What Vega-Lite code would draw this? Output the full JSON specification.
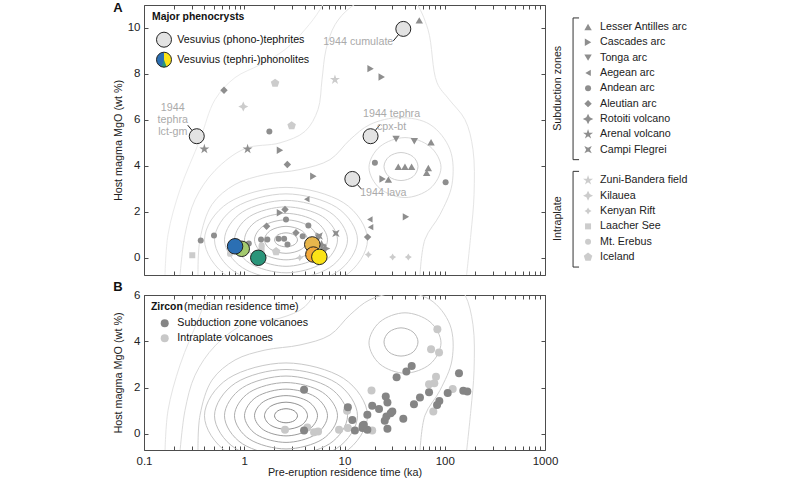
{
  "$schema": "https://vega.github.io/schema/vega-lite/v6.json",
  "padding": {"left": 111, "top": 1, "right": 5, "bottom": 0},
  "config": {
    "font": "Liberation Sans",
    "view": {"stroke": "#4d4d4d", "strokeWidth": 1},
    "axis": {"domain": false, "grid": false, "labelFont": "Liberation Sans", "labelFontSize": 11.5, "labelColor": "#222", "titleFont": "Liberation Sans", "titleFontSize": 10.8, "titleFontWeight": "normal", "titleColor": "#222", "tickColor": "#4d4d4d", "tickWidth": 1, "tickSize": -4}
  },
  "datasets": {
    "rings": [
      {"c":"k0","lv":0,"i":0,"t":3.398,"m":0.78},{"c":"k0","lv":0,"i":1,"t":3.146,"m":0.995},{"c":"k0","lv":0,"i":2,"t":2.61,"m":1.084},{"c":"k0","lv":0,"i":3,"t":2.165,"m":0.995},{"c":"k0","lv":0,"i":4,"t":2.004,"m":0.78},{"c":"k0","lv":0,"i":5,"t":2.165,"m":0.565},{"c":"k0","lv":0,"i":6,"t":2.61,"m":0.476},{"c":"k0","lv":0,"i":7,"t":3.146,"m":0.565},
      {"c":"k1","lv":1,"i":0,"t":4.276,"m":0.78},{"c":"k1","lv":1,"i":1,"t":3.7,"m":1.195},{"c":"k1","lv":1,"i":2,"t":2.61,"m":1.367},{"c":"k1","lv":1,"i":3,"t":1.84,"m":1.195},{"c":"k1","lv":1,"i":4,"t":1.592,"m":0.78},{"c":"k1","lv":1,"i":5,"t":1.84,"m":0.365},{"c":"k1","lv":1,"i":6,"t":2.61,"m":0.193},{"c":"k1","lv":1,"i":7,"t":3.7,"m":0.365},
      {"c":"k2","lv":2,"i":0,"t":5.38,"m":0.78},{"c":"k2","lv":2,"i":1,"t":4.351,"m":1.395},{"c":"k2","lv":2,"i":2,"t":2.61,"m":1.65},{"c":"k2","lv":2,"i":3,"t":1.564,"m":1.395},{"c":"k2","lv":2,"i":4,"t":1.266,"m":0.78},{"c":"k2","lv":2,"i":5,"t":1.564,"m":0.165},{"c":"k2","lv":2,"i":6,"t":2.61,"m":-0.09},{"c":"k2","lv":2,"i":7,"t":4.351,"m":0.165},
      {"c":"k3","lv":3,"i":0,"t":6.768,"m":0.78},{"c":"k3","lv":3,"i":1,"t":5.122,"m":1.595},{"c":"k3","lv":3,"i":2,"t":2.61,"m":1.932},{"c":"k3","lv":3,"i":3,"t":1.329,"m":1.595},{"c":"k3","lv":3,"i":4,"t":1.006,"m":0.78},{"c":"k3","lv":3,"i":5,"t":1.329,"m":-0.035},{"c":"k3","lv":3,"i":6,"t":2.61,"m":-0.372},{"c":"k3","lv":3,"i":7,"t":5.122,"m":-0.035},
      {"c":"k4","lv":4,"i":0,"t":8.515,"m":0.78},{"c":"k4","lv":4,"i":1,"t":6.025,"m":1.794},{"c":"k4","lv":4,"i":2,"t":2.61,"m":2.215},{"c":"k4","lv":4,"i":3,"t":1.13,"m":1.794},{"c":"k4","lv":4,"i":4,"t":0.799,"m":0.78},{"c":"k4","lv":4,"i":5,"t":1.13,"m":-0.234},{"c":"k4","lv":4,"i":6,"t":2.61,"m":-0.655},{"c":"k4","lv":4,"i":7,"t":6.025,"m":-0.234},
      {"c":"k5","lv":5,"i":0,"t":10.72,"m":0.78},{"c":"k5","lv":5,"i":1,"t":7.084,"m":1.994},{"c":"k5","lv":5,"i":2,"t":2.61,"m":2.497},{"c":"k5","lv":5,"i":3,"t":0.961,"m":1.994},{"c":"k5","lv":5,"i":4,"t":0.635,"m":0.78},{"c":"k5","lv":5,"i":5,"t":0.961,"m":-0.434},{"c":"k5","lv":5,"i":6,"t":2.61,"m":-0.937},{"c":"k5","lv":5,"i":7,"t":7.084,"m":-0.434},
      {"c":"k6","lv":6,"i":0,"t":13.48,"m":0.78},{"c":"k6","lv":6,"i":1,"t":8.333,"m":2.194},{"c":"k6","lv":6,"i":2,"t":2.61,"m":2.78},{"c":"k6","lv":6,"i":3,"t":0.817,"m":2.194},{"c":"k6","lv":6,"i":4,"t":0.505,"m":0.78},{"c":"k6","lv":6,"i":5,"t":0.817,"m":-0.634},{"c":"k6","lv":6,"i":6,"t":2.61,"m":-1.22},{"c":"k6","lv":6,"i":7,"t":8.333,"m":-0.634},
      {"c":"k7","lv":7,"i":0,"t":16.96,"m":0.78},{"c":"k7","lv":7,"i":1,"t":9.804,"m":2.394},{"c":"k7","lv":7,"i":2,"t":2.61,"m":3.063},{"c":"k7","lv":7,"i":3,"t":0.694,"m":2.394},{"c":"k7","lv":7,"i":4,"t":0.401,"m":0.78},{"c":"k7","lv":7,"i":5,"t":0.694,"m":-0.834},{"c":"k7","lv":7,"i":6,"t":2.61,"m":-1.503},{"c":"k7","lv":7,"i":7,"t":9.804,"m":-0.834},
      {"c":"M0","lv":5,"i":0,"t":54.11,"m":3.97},{"c":"M0","lv":5,"i":1,"t":48.24,"m":4.4},{"c":"M0","lv":5,"i":2,"t":36.61,"m":4.58},{"c":"M0","lv":5,"i":3,"t":27.79,"m":4.4},{"c":"M0","lv":5,"i":4,"t":24.77,"m":3.97},{"c":"M0","lv":5,"i":5,"t":27.79,"m":3.53},{"c":"M0","lv":5,"i":6,"t":36.61,"m":3.36},{"c":"M0","lv":5,"i":7,"t":48.24,"m":3.53},
      {"c":"M1","lv":7,"i":0,"t":91.76,"m":3.93},{"c":"M1","lv":7,"i":1,"t":71.27,"m":4.84},{"c":"M1","lv":7,"i":2,"t":40.13,"m":5.23},{"c":"M1","lv":7,"i":3,"t":22.6,"m":4.84},{"c":"M1","lv":7,"i":4,"t":17.55,"m":3.93},{"c":"M1","lv":7,"i":5,"t":22.6,"m":3.01},{"c":"M1","lv":7,"i":6,"t":40.13,"m":2.62},{"c":"M1","lv":7,"i":7,"t":71.27,"m":3.01}
    ],
    "outer": [
      {"c":"C1","lv":8,"i":0,"t":0.3457,"m":-0.77},{"c":"C1","lv":8,"i":1,"t":0.3619,"m":0.8},{"c":"C1","lv":8,"i":2,"t":0.4769,"m":2.32},{"c":"C1","lv":8,"i":3,"t":0.8088,"m":3.19},{"c":"C1","lv":8,"i":4,"t":1.611,"m":3.62},{"c":"C1","lv":8,"i":5,"t":3.598,"m":3.84},{"c":"C1","lv":8,"i":6,"t":7.168,"m":4.27},{"c":"C1","lv":8,"i":7,"t":11.34,"m":5.14},{"c":"C1","lv":8,"i":8,"t":17.96,"m":5.8},{"c":"C1","lv":8,"i":9,"t":35.78,"m":6.1},{"c":"C1","lv":8,"i":10,"t":71.27,"m":5.8},{"c":"C1","lv":8,"i":11,"t":112.8,"m":4.71},{"c":"C1","lv":8,"i":12,"t":118.1,"m":3.19},{"c":"C1","lv":8,"i":13,"t":89.68,"m":1.88},{"c":"C1","lv":8,"i":14,"t":63.53,"m":0.8},{"c":"C1","lv":8,"i":15,"t":56.64,"m":-0.77},
      {"c":"C2","lv":9,"i":0,"t":0.2286,"m":-0.77},{"c":"C2","lv":9,"i":1,"t":0.2564,"m":1.01},{"c":"C2","lv":9,"i":2,"t":0.3227,"m":2.53},{"c":"C2","lv":9,"i":3,"t":0.5108,"m":3.8},{"c":"C2","lv":9,"i":4,"t":1.0174,"m":4.75},{"c":"C2","lv":9,"i":5,"t":2.273,"m":5.0},{"c":"C2","lv":9,"i":6,"t":4.036,"m":5.5},{"c":"C2","lv":9,"i":7,"t":5.441,"m":6.45},{"c":"C2","lv":9,"i":8,"t":5.965,"m":7.75},{"c":"C2","lv":9,"i":9,"t":6.54,"m":9.06},{"c":"C2","lv":9,"i":10,"t":8.039,"m":10.14},{"c":"C2","lv":9,"i":11,"t":11.34,"m":10.88},{"c":"C2","lv":9,"i":12,"t":20.15,"m":11.45},{"c":"C2","lv":9,"i":13,"t":35.78,"m":11.58},{"c":"C2","lv":9,"i":14,"t":50.5,"m":11.14},{"c":"C2","lv":9,"i":15,"t":68.07,"m":9.93},{"c":"C2","lv":9,"i":16,"t":83.7,"m":7.62},{"c":"C2","lv":9,"i":17,"t":110,"m":6.9},{"c":"C2","lv":9,"i":18,"t":159.2,"m":6.01},{"c":"C2","lv":9,"i":19,"t":191.3,"m":4.71},{"c":"C2","lv":9,"i":20,"t":196,"m":2.75},{"c":"C2","lv":9,"i":21,"t":182,"m":1.0},{"c":"C2","lv":9,"i":22,"t":165,"m":-0.77},
      {"c":"C3","lv":10,"i":0,"t":0.162,"m":-0.77},{"c":"C3","lv":10,"i":1,"t":0.1736,"m":1.01},{"c":"C3","lv":10,"i":2,"t":0.2286,"m":2.97},{"c":"C3","lv":10,"i":3,"t":0.3619,"m":5.14},{"c":"C3","lv":10,"i":4,"t":0.5108,"m":6.88},{"c":"C3","lv":10,"i":5,"t":0.8088,"m":7.84},{"c":"C3","lv":10,"i":6,"t":1.436,"m":8.4},{"c":"C3","lv":10,"i":7,"t":2.55,"m":9.06},{"c":"C3","lv":10,"i":8,"t":4.036,"m":9.93},{"c":"C3","lv":10,"i":9,"t":5.696,"m":10.8},{"c":"C3","lv":10,"i":10,"t":7.168,"m":11.67}
    ],
    "phen": [
      {"name":"Laacher See","t":0.303,"m":0.11},{"name":"Laacher See","t":1.49,"m":0.39},
      {"name":"Mt. Erebus","t":0.72,"m":0.17},{"name":"Mt. Erebus","t":1.49,"m":0.55},
      {"name":"Kenyan Rift","t":17.3,"m":0.14},{"name":"Kenyan Rift","t":30.2,"m":0.03},{"name":"Kenyan Rift","t":43.3,"m":0.03},{"name":"Kenyan Rift","t":3.58,"m":0.0},
      {"name":"Iceland","t":2.03,"m":7.6},{"name":"Iceland","t":2.97,"m":5.75},{"name":"Iceland","t":2.08,"m":0.27},
      {"name":"Zuni-Bandera field","t":8.03,"m":7.75},
      {"name":"Kilauea","t":0.978,"m":6.58},
      {"name":"Lesser Antilles arc","t":55.7,"m":10.33},{"name":"Lesser Antilles arc","t":73,"m":5.03},{"name":"Lesser Antilles arc","t":34.4,"m":3.96},{"name":"Lesser Antilles arc","t":40.1,"m":3.96},{"name":"Lesser Antilles arc","t":46.7,"m":3.96},{"name":"Lesser Antilles arc","t":68.6,"m":3.91},{"name":"Lesser Antilles arc","t":66,"m":3.7},{"name":"Lesser Antilles arc","t":27.4,"m":3.4},
      {"name":"Cascades arc","t":18.2,"m":8.23},{"name":"Cascades arc","t":23.5,"m":7.87},{"name":"Cascades arc","t":2.27,"m":4.68},{"name":"Cascades arc","t":4.89,"m":3.55},{"name":"Cascades arc","t":24,"m":3.43},{"name":"Cascades arc","t":41,"m":1.78},{"name":"Cascades arc","t":2.27,"m":1.96},
      {"name":"Tonga arc","t":32.7,"m":5.17},{"name":"Tonga arc","t":49.7,"m":5.07},{"name":"Tonga arc","t":5.5,"m":0.87},
      {"name":"Aegean arc","t":17.9,"m":1.67},{"name":"Aegean arc","t":18.2,"m":1.33},{"name":"Aegean arc","t":4.2,"m":2.55},
      {"name":"Andean arc","t":1.78,"m":5.5},{"name":"Andean arc","t":20.1,"m":4.13},{"name":"Andean arc","t":102,"m":3.29},{"name":"Andean arc","t":0.368,"m":0.75},{"name":"Andean arc","t":0.499,"m":0.97},{"name":"Andean arc","t":1.11,"m":0.62},{"name":"Andean arc","t":2.61,"m":1.67},{"name":"Andean arc","t":4.36,"m":1.4},{"name":"Andean arc","t":3.83,"m":0.94},{"name":"Andean arc","t":1.47,"m":0.8},{"name":"Andean arc","t":1.7,"m":0.8},{"name":"Andean arc","t":2.2,"m":0.83},{"name":"Andean arc","t":2.5,"m":0.83},{"name":"Andean arc","t":2.7,"m":0.58},
      {"name":"Aleutian arc","t":0.628,"m":7.29},{"name":"Aleutian arc","t":2.69,"m":4.06},{"name":"Aleutian arc","t":2.55,"m":2.1},{"name":"Aleutian arc","t":1.67,"m":1.37},{"name":"Aleutian arc","t":3.28,"m":1.09},{"name":"Aleutian arc","t":17,"m":0.9},
      {"name":"Rotoiti volcano","t":5.9,"m":0.55},{"name":"Rotoiti volcano","t":6.4,"m":0.4},
      {"name":"Arenal volcano","t":0.4,"m":4.73},{"name":"Arenal volcano","t":1.08,"m":4.73},
      {"name":"Campi Flegrei","t":8.2,"m":1.06},{"name":"Campi Flegrei","t":5.6,"m":0.95}
    ],
    "vesgray": [
      {"k":"cum","note":"1944 cumulate","t":38.6,"m":9.96},
      {"k":"lct","note":"1944\ntephra\nlct-gm","t":0.336,"m":5.29},
      {"k":"cpx","note":"1944 tephra\ncpx-bt","t":18.2,"m":5.29},
      {"k":"lava","note":"1944 lava","t":11.97,"m":3.43}
    ],
    "vescol": [
      {"col":"lgreen","t":0.944,"m":0.39},
      {"col":"blue","t":0.81,"m":0.5},
      {"col":"teal","t":1.38,"m":0.0},
      {"col":"gold","t":4.77,"m":0.58},
      {"col":"orange","t":4.89,"m":0.14},
      {"col":"yellow","t":5.61,"m":0.04}
    ],
    "zircon": [
      {"g":"Intraplate volcanoes","t":2.55,"m":0.17},{"g":"Intraplate volcanoes","t":4.26,"m":0.27},{"g":"Intraplate volcanoes","t":4.97,"m":0.07},{"g":"Intraplate volcanoes","t":5.45,"m":0.1},{"g":"Intraplate volcanoes","t":8.82,"m":0.17},{"g":"Intraplate volcanoes","t":10.8,"m":0.25},{"g":"Intraplate volcanoes","t":10.6,"m":1.0},{"g":"Intraplate volcanoes","t":18.9,"m":0.14},{"g":"Intraplate volcanoes","t":18.6,"m":1.87},{"g":"Intraplate volcanoes","t":84.4,"m":4.52},{"g":"Intraplate volcanoes","t":73,"m":3.66},{"g":"Intraplate volcanoes","t":87.7,"m":3.51},{"g":"Intraplate volcanoes","t":81.8,"m":2.47},{"g":"Intraplate volcanoes","t":69.7,"m":2.14},{"g":"Intraplate volcanoes","t":78.7,"m":2.19},{"g":"Intraplate volcanoes","t":120,"m":1.94},{"g":"Intraplate volcanoes","t":76.9,"m":0.96},
      {"g":"Subduction zone volcanoes","t":3.95,"m":1.9},{"g":"Subduction zone volcanoes","t":3.95,"m":0.14},{"g":"Subduction zone volcanoes","t":10.8,"m":1.15},{"g":"Subduction zone volcanoes","t":11.97,"m":0.6},{"g":"Subduction zone volcanoes","t":12.7,"m":0.14},{"g":"Subduction zone volcanoes","t":15.1,"m":0.25},{"g":"Subduction zone volcanoes","t":15.6,"m":0.39},{"g":"Subduction zone volcanoes","t":16.9,"m":0.17},{"g":"Subduction zone volcanoes","t":16.9,"m":0.82},{"g":"Subduction zone volcanoes","t":18.9,"m":1.21},{"g":"Subduction zone volcanoes","t":22.1,"m":1.07},{"g":"Subduction zone volcanoes","t":25.8,"m":1.61},{"g":"Subduction zone volcanoes","t":26.8,"m":1.35},{"g":"Subduction zone volcanoes","t":25.2,"m":0.56},{"g":"Subduction zone volcanoes","t":26.2,"m":0.75},{"g":"Subduction zone volcanoes","t":28.9,"m":0.89},{"g":"Subduction zone volcanoes","t":30,"m":0.96},{"g":"Subduction zone volcanoes","t":26.8,"m":0.22},{"g":"Subduction zone volcanoes","t":33.1,"m":2.45},{"g":"Subduction zone volcanoes","t":41.4,"m":2.69},{"g":"Subduction zone volcanoes","t":46.8,"m":2.93},{"g":"Subduction zone volcanoes","t":38.6,"m":0.65},{"g":"Subduction zone volcanoes","t":49.3,"m":1.28},{"g":"Subduction zone volcanoes","t":56.6,"m":1.57},{"g":"Subduction zone volcanoes","t":69.7,"m":1.8},{"g":"Subduction zone volcanoes","t":138.7,"m":2.62},{"g":"Subduction zone volcanoes","t":107,"m":1.76},{"g":"Subduction zone volcanoes","t":153,"m":1.86},{"g":"Subduction zone volcanoes","t":168,"m":1.83},{"g":"Subduction zone volcanoes","t":88.3,"m":1.42},{"g":"Subduction zone volcanoes","t":83.8,"m":1.25},{"g":"Subduction zone volcanoes","t":15.2,"m":0.36}
    ],
    "legend": [
      {"name":"Lesser Antilles arc","grp":"Subduction zones","ord":0},
      {"name":"Cascades arc","grp":"Subduction zones","ord":1},
      {"name":"Tonga arc","grp":"Subduction zones","ord":2},
      {"name":"Aegean arc","grp":"Subduction zones","ord":3},
      {"name":"Andean arc","grp":"Subduction zones","ord":4},
      {"name":"Aleutian arc","grp":"Subduction zones","ord":5},
      {"name":"Rotoiti volcano","grp":"Subduction zones","ord":6},
      {"name":"Arenal volcano","grp":"Subduction zones","ord":7},
      {"name":"Campi Flegrei","grp":"Subduction zones","ord":8},
      {"name":"Zuni-Bandera field","grp":"Intraplate","ord":10},
      {"name":"Kilauea","grp":"Intraplate","ord":11},
      {"name":"Kenyan Rift","grp":"Intraplate","ord":12},
      {"name":"Laacher See","grp":"Intraplate","ord":13},
      {"name":"Mt. Erebus","grp":"Intraplate","ord":14},
      {"name":"Iceland","grp":"Intraplate","ord":15}
    ]
  },
  "resolve": {"scale": {"x": "independent", "y": "independent", "color": "independent", "shape": "independent", "size": "independent", "fill": "independent"}},
  "columns": 2,
  "align": "each",
  "bounds": "flush",
  "spacing": {"row": 20, "column": 3},
  "concat": [
    {
      "width": 401, "height": 270,
      "resolve": {"axis": {"x": "independent", "y": "independent"}},
      "layer": [
        {
          "data": {"name": "rings"},
          "mark": {"type": "line", "interpolate": "cardinal-closed", "clip": true, "strokeWidth": 1},
          "encoding": {
            "x": {"field": "t", "type": "quantitative", "scale": {"type": "log", "domain": [0.1, 1000], "nice": false}, "axis": {"orient": "bottom", "values": [0.1,0.2,0.3,0.4,0.5,0.6,0.7,0.8,0.9,1,2,3,4,5,6,7,8,9,10,20,30,40,50,60,70,80,90,100,200,300,400,500,600,700,800,900,1000], "labels": false, "title": null}},
            "y": {"field": "m", "type": "quantitative", "scale": {"domain": [-0.75, 11], "nice": false, "zero": false}, "axis": {"orient": "left", "values": [0,2,4,6,8,10], "title": "Host magma MgO (wt %)", "labelPadding": 8, "minExtent": 18, "maxExtent": 18, "titlePadding": 3}},
            "detail": {"field": "c"},
            "order": {"field": "i", "type": "quantitative"},
            "color": {"field": "lv", "type": "quantitative", "scale": {"domain": [0, 10], "range": ["#b3b3b3", "#ebebeb"]}, "legend": null}
          }
        },
        {
          "data": {"name": "outer"},
          "mark": {"type": "line", "interpolate": "catmull-rom", "clip": true, "strokeWidth": 1},
          "encoding": {
            "x": {"field": "t", "type": "quantitative", "scale": {"type": "log", "domain": [0.1, 1000], "nice": false}, "axis": {"orient": "top", "values": [0.1,0.2,0.3,0.4,0.5,0.6,0.7,0.8,0.9,1,2,3,4,5,6,7,8,9,10,20,30,40,50,60,70,80,90,100,200,300,400,500,600,700,800,900,1000], "labels": false, "title": null}},
            "y": {"field": "m", "type": "quantitative", "scale": {"domain": [-0.75, 11], "nice": false, "zero": false}, "axis": {"orient": "right", "values": [0,2,4,6,8,10], "labels": false, "title": null}},
            "detail": {"field": "c"},
            "order": {"field": "i", "type": "quantitative"},
            "color": {"field": "lv", "type": "quantitative", "scale": {"domain": [0, 10], "range": ["#b3b3b3", "#ebebeb"]}, "legend": null}
          }
        },
        {
          "data": {"name": "vesgray"},
          "transform": [{"filter": "datum.k == 'cum'"}],
          "mark": {"type": "rule", "color": "#222", "strokeWidth": 1, "x2Offset": -10, "y2Offset": 12},
          "encoding": {
            "x": {"field": "t", "type": "quantitative", "scale": {"type": "log", "domain": [0.1, 1000], "nice": false}, "axis": null},
            "y": {"field": "m", "type": "quantitative", "scale": {"domain": [-0.75, 11], "nice": false, "zero": false}, "axis": null},
            "x2": {"field": "t"}, "y2": {"field": "m"}
          }
        },
        {
          "data": {"name": "vesgray"},
          "transform": [{"filter": "datum.k == 'lct'"}],
          "mark": {"type": "rule", "color": "#222", "strokeWidth": 1, "x2Offset": -9, "y2Offset": -11},
          "encoding": {
            "x": {"field": "t", "type": "quantitative", "scale": {"type": "log", "domain": [0.1, 1000], "nice": false}, "axis": null},
            "y": {"field": "m", "type": "quantitative", "scale": {"domain": [-0.75, 11], "nice": false, "zero": false}, "axis": null},
            "x2": {"field": "t"}, "y2": {"field": "m"}
          }
        },
        {
          "data": {"name": "vesgray"},
          "transform": [{"filter": "datum.k == 'cpx'"}],
          "mark": {"type": "rule", "color": "#222", "strokeWidth": 1, "x2Offset": 9, "y2Offset": -11},
          "encoding": {
            "x": {"field": "t", "type": "quantitative", "scale": {"type": "log", "domain": [0.1, 1000], "nice": false}, "axis": null},
            "y": {"field": "m", "type": "quantitative", "scale": {"domain": [-0.75, 11], "nice": false, "zero": false}, "axis": null},
            "x2": {"field": "t"}, "y2": {"field": "m"}
          }
        },
        {
          "data": {"name": "vesgray"},
          "transform": [{"filter": "datum.k == 'lava'"}],
          "mark": {"type": "rule", "color": "#222", "strokeWidth": 1, "x2Offset": 9, "y2Offset": 10},
          "encoding": {
            "x": {"field": "t", "type": "quantitative", "scale": {"type": "log", "domain": [0.1, 1000], "nice": false}, "axis": null},
            "y": {"field": "m", "type": "quantitative", "scale": {"domain": [-0.75, 11], "nice": false, "zero": false}, "axis": null},
            "x2": {"field": "t"}, "y2": {"field": "m"}
          }
        },
        {
          "data": {"name": "phen"},
          "mark": {"type": "point", "filled": true, "opacity": 1, "strokeWidth": 0},
          "encoding": {
            "x": {"field": "t", "type": "quantitative", "scale": {"type": "log", "domain": [0.1, 1000], "nice": false}, "axis": null},
            "y": {"field": "m", "type": "quantitative", "scale": {"domain": [-0.75, 11], "nice": false, "zero": false}, "axis": null},
            "shape": {"field": "name", "type": "nominal", "legend": null, "scale": {"domain": ["Lesser Antilles arc","Cascades arc","Tonga arc","Aegean arc","Andean arc","Aleutian arc","Rotoiti volcano","Arenal volcano","Campi Flegrei","Zuni-Bandera field","Kilauea","Kenyan Rift","Laacher See","Mt. Erebus","Iceland"], "range": ["triangle-up","triangle-right","triangle-down","triangle-left","circle","diamond","M0,-1L0.32,-0.32L1,0L0.32,0.32L0,1L-0.32,0.32L-1,0L-0.32,-0.32Z","M0,-1L0.2245,-0.309L0.951,-0.309L0.3633,0.118L0.588,0.809L0,0.382L-0.588,0.809L-0.3633,0.118L-0.951,-0.309L-0.2245,-0.309Z","M-1,-1L0,-0.5L1,-1L0.5,0L1,1L0,0.5L-1,1L-0.5,0Z","M0,-1L0.2245,-0.309L0.951,-0.309L0.3633,0.118L0.588,0.809L0,0.382L-0.588,0.809L-0.3633,0.118L-0.951,-0.309L-0.2245,-0.309Z","M0,-1L0.32,-0.32L1,0L0.32,0.32L0,1L-0.32,0.32L-1,0L-0.32,-0.32Z","M0,-1L0.38,-0.38L1,0L0.38,0.38L0,1L-0.38,0.38L-1,0L-0.38,-0.38Z","square","circle","M0,-1L0.951,-0.309L0.588,0.809L-0.588,0.809L-0.951,-0.309Z"]}},
            "color": {"field": "name", "type": "nominal", "legend": null, "scale": {"domain": ["Lesser Antilles arc","Cascades arc","Tonga arc","Aegean arc","Andean arc","Aleutian arc","Rotoiti volcano","Arenal volcano","Campi Flegrei","Zuni-Bandera field","Kilauea","Kenyan Rift","Laacher See","Mt. Erebus","Iceland"], "range": ["#8e8e8e","#8e8e8e","#8e8e8e","#8e8e8e","#8e8e8e","#8e8e8e","#8e8e8e","#8e8e8e","#8e8e8e","#cccccc","#cccccc","#cccccc","#cccccc","#cccccc","#cccccc"]}},
            "size": {"field": "name", "type": "nominal", "legend": null, "scale": {"type": "ordinal", "domain": ["Lesser Antilles arc","Cascades arc","Tonga arc","Aegean arc","Andean arc","Aleutian arc","Rotoiti volcano","Arenal volcano","Campi Flegrei","Zuni-Bandera field","Kilauea","Kenyan Rift","Laacher See","Mt. Erebus","Iceland"], "range": [55,55,55,40,36,55,110,110,55,110,100,50,36,36,80]}}
          }
        },
        {
          "data": {"name": "vesgray"},
          "mark": {"type": "point", "shape": "circle", "filled": true, "fill": "#e3e3e3", "stroke": "#222", "strokeWidth": 1, "size": 225, "opacity": 1},
          "encoding": {
            "x": {"field": "t", "type": "quantitative", "scale": {"type": "log", "domain": [0.1, 1000], "nice": false}, "axis": null},
            "y": {"field": "m", "type": "quantitative", "scale": {"domain": [-0.75, 11], "nice": false, "zero": false}, "axis": null}
          }
        },
        {
          "data": {"name": "vescol"},
          "mark": {"type": "point", "shape": "circle", "filled": true, "stroke": "#222", "strokeWidth": 1, "size": 240, "opacity": 1},
          "encoding": {
            "x": {"field": "t", "type": "quantitative", "scale": {"type": "log", "domain": [0.1, 1000], "nice": false}, "axis": null},
            "y": {"field": "m", "type": "quantitative", "scale": {"domain": [-0.75, 11], "nice": false, "zero": false}, "axis": null},
            "fill": {"field": "col", "type": "nominal", "legend": null, "scale": {"domain": ["blue","lgreen","teal","gold","orange","yellow"], "range": ["#2b6fb3","#a3c96e","#2a957a","#e8b64c","#f4a93a","#fbe316"]}}
          }
        },
        {
          "data": {"name": "vesgray"},
          "transform": [{"filter": "datum.k == 'cum'"}],
          "mark": {"type": "text", "align": "right", "baseline": "middle", "dx": -10, "dy": 13, "fontSize": 10.7, "color": "#aaaaaa", "lineBreak": "\n", "lineHeight": 12},
          "encoding": {
            "x": {"field": "t", "type": "quantitative", "scale": {"type": "log", "domain": [0.1, 1000], "nice": false}, "axis": null},
            "y": {"field": "m", "type": "quantitative", "scale": {"domain": [-0.75, 11], "nice": false, "zero": false}, "axis": null},
            "text": {"field": "note"}
          }
        },
        {
          "data": {"name": "vesgray"},
          "transform": [{"filter": "datum.k == 'lct'"}],
          "mark": {"type": "text", "align": "center", "baseline": "middle", "dx": -24, "dy": -28, "fontSize": 10.7, "color": "#aaaaaa", "lineBreak": "\n", "lineHeight": 11.7},
          "encoding": {
            "x": {"field": "t", "type": "quantitative", "scale": {"type": "log", "domain": [0.1, 1000], "nice": false}, "axis": null},
            "y": {"field": "m", "type": "quantitative", "scale": {"domain": [-0.75, 11], "nice": false, "zero": false}, "axis": null},
            "text": {"field": "note"}
          }
        },
        {
          "data": {"name": "vesgray"},
          "transform": [{"filter": "datum.k == 'cpx'"}],
          "mark": {"type": "text", "align": "center", "baseline": "middle", "dx": 21, "dy": -22, "fontSize": 10.7, "color": "#aaaaaa", "lineBreak": "\n", "lineHeight": 13},
          "encoding": {
            "x": {"field": "t", "type": "quantitative", "scale": {"type": "log", "domain": [0.1, 1000], "nice": false}, "axis": null},
            "y": {"field": "m", "type": "quantitative", "scale": {"domain": [-0.75, 11], "nice": false, "zero": false}, "axis": null},
            "text": {"field": "note"}
          }
        },
        {
          "data": {"name": "vesgray"},
          "transform": [{"filter": "datum.k == 'lava'"}],
          "mark": {"type": "text", "align": "center", "baseline": "middle", "dx": 31, "dy": 14, "fontSize": 10.7, "color": "#aaaaaa", "lineBreak": "\n"},
          "encoding": {
            "x": {"field": "t", "type": "quantitative", "scale": {"type": "log", "domain": [0.1, 1000], "nice": false}, "axis": null},
            "y": {"field": "m", "type": "quantitative", "scale": {"domain": [-0.75, 11], "nice": false, "zero": false}, "axis": null},
            "text": {"field": "note"}
          }
        },
        {
          "data": {"values": [{}]},
          "mark": {"type": "text", "align": "left", "baseline": "middle", "fontSize": 10.4, "fontWeight": "bold", "color": "#111"},
          "encoding": {
            "x": {"datum": 0.1202, "type": "quantitative", "scale": {"type": "log", "domain": [0.1, 1000], "nice": false}, "axis": null},
            "y": {"datum": 10.46, "type": "quantitative", "scale": {"domain": [-0.75, 11], "nice": false, "zero": false}, "axis": null},
            "text": {"value": "Major phenocrysts"}
          }
        },
        {
          "data": {"values": [{}]},
          "mark": {"type": "point", "shape": "circle", "filled": true, "fill": "#e3e3e3", "stroke": "#222", "strokeWidth": 1, "size": 225, "opacity": 1},
          "encoding": {
            "x": {"datum": 0.1583, "type": "quantitative", "scale": {"type": "log", "domain": [0.1, 1000], "nice": false}, "axis": null},
            "y": {"datum": 9.49, "type": "quantitative", "scale": {"domain": [-0.75, 11], "nice": false, "zero": false}, "axis": null}
          }
        },
        {
          "data": {"values": [{}]},
          "mark": {"type": "point", "shape": "M0,-1A1,1,0,0,0,0,1Z", "filled": true, "fill": "#2b6fb3", "strokeWidth": 0, "size": 225, "opacity": 1},
          "encoding": {
            "x": {"datum": 0.1583, "type": "quantitative", "scale": {"type": "log", "domain": [0.1, 1000], "nice": false}, "axis": null},
            "y": {"datum": 8.62, "type": "quantitative", "scale": {"domain": [-0.75, 11], "nice": false, "zero": false}, "axis": null}
          }
        },
        {
          "data": {"values": [{}]},
          "mark": {"type": "point", "shape": "M0,-1A1,1,0,0,1,0,1Z", "filled": true, "fill": "#fbe316", "strokeWidth": 0, "size": 225, "opacity": 1},
          "encoding": {
            "x": {"datum": 0.1583, "type": "quantitative", "scale": {"type": "log", "domain": [0.1, 1000], "nice": false}, "axis": null},
            "y": {"datum": 8.62, "type": "quantitative", "scale": {"domain": [-0.75, 11], "nice": false, "zero": false}, "axis": null}
          }
        },
        {
          "data": {"values": [{}]},
          "mark": {"type": "point", "shape": "M0,0L0.342,0.94A1,1,0,0,1,-0.342,0.94Z", "filled": true, "fill": "#2a957a", "strokeWidth": 0, "size": 225, "opacity": 1},
          "encoding": {
            "x": {"datum": 0.1583, "type": "quantitative", "scale": {"type": "log", "domain": [0.1, 1000], "nice": false}, "axis": null},
            "y": {"datum": 8.62, "type": "quantitative", "scale": {"domain": [-0.75, 11], "nice": false, "zero": false}, "axis": null}
          }
        },
        {
          "data": {"values": [{}]},
          "mark": {"type": "point", "shape": "circle", "filled": false, "stroke": "#222", "strokeWidth": 1, "size": 225, "opacity": 1},
          "encoding": {
            "x": {"datum": 0.1583, "type": "quantitative", "scale": {"type": "log", "domain": [0.1, 1000], "nice": false}, "axis": null},
            "y": {"datum": 8.62, "type": "quantitative", "scale": {"domain": [-0.75, 11], "nice": false, "zero": false}, "axis": null}
          }
        },
        {
          "data": {"values": [{}]},
          "mark": {"type": "text", "align": "left", "baseline": "middle", "fontSize": 10.7, "color": "#111"},
          "encoding": {
            "x": {"datum": 0.2149, "type": "quantitative", "scale": {"type": "log", "domain": [0.1, 1000], "nice": false}, "axis": null},
            "y": {"datum": 9.49, "type": "quantitative", "scale": {"domain": [-0.75, 11], "nice": false, "zero": false}, "axis": null},
            "text": {"value": "Vesuvius (phono-)tephrites"}
          }
        },
        {
          "data": {"values": [{}]},
          "mark": {"type": "text", "align": "left", "baseline": "middle", "fontSize": 10.7, "color": "#111"},
          "encoding": {
            "x": {"datum": 0.2149, "type": "quantitative", "scale": {"type": "log", "domain": [0.1, 1000], "nice": false}, "axis": null},
            "y": {"datum": 8.62, "type": "quantitative", "scale": {"domain": [-0.75, 11], "nice": false, "zero": false}, "axis": null},
            "text": {"value": "Vesuvius (tephri-)phonolites"}
          }
        },
        {
          "data": {"values": [{}]},
          "mark": {"type": "text", "align": "center", "baseline": "middle", "fontSize": 13, "fontWeight": "bold", "color": "#111"},
          "encoding": {
            "x": {"datum": 0.055, "type": "quantitative", "scale": {"type": "log", "domain": [0.1, 1000], "nice": false}, "axis": null},
            "y": {"datum": 10.85, "type": "quantitative", "scale": {"domain": [-0.75, 11], "nice": false, "zero": false}, "axis": null},
            "text": {"value": "A"}
          }
        }
      ]
    },
    {
      "width": 150, "height": 270,
      "view": {"stroke": null},
      "data": {"name": "legend"},
      "layer": [
        {
          "mark": {"type": "rule", "color": "#333", "strokeWidth": 1, "yOffset": -9, "y2Offset": 10},
          "encoding": {
            "x": {"datum": 1.67, "type": "quantitative", "scale": {"domain": [0, 10]}, "axis": null},
            "y": {"aggregate": "min", "field": "ord", "type": "quantitative", "scale": {"domain": [-1.43, 16.17], "reverse": true, "nice": false, "zero": false}, "axis": null},
            "y2": {"aggregate": "max", "field": "ord"},
            "detail": {"field": "grp"}
          }
        },
        {
          "mark": {"type": "rule", "color": "#333", "strokeWidth": 1, "yOffset": -9},
          "encoding": {
            "x": {"datum": 1.67, "type": "quantitative", "scale": {"domain": [0, 10]}, "axis": null},
            "x2": {"datum": 2.07},
            "y": {"aggregate": "min", "field": "ord", "type": "quantitative", "scale": {"domain": [-1.43, 16.17], "reverse": true, "nice": false, "zero": false}, "axis": null},
            "detail": {"field": "grp"}
          }
        },
        {
          "mark": {"type": "rule", "color": "#333", "strokeWidth": 1, "yOffset": 10},
          "encoding": {
            "x": {"datum": 1.67, "type": "quantitative", "scale": {"domain": [0, 10]}, "axis": null},
            "x2": {"datum": 2.07},
            "y": {"aggregate": "max", "field": "ord", "type": "quantitative", "scale": {"domain": [-1.43, 16.17], "reverse": true, "nice": false, "zero": false}, "axis": null},
            "detail": {"field": "grp"}
          }
        },
        {
          "mark": {"type": "text", "angle": 270, "align": "center", "baseline": "middle", "fontSize": 10.7, "color": "#222"},
          "encoding": {
            "x": {"datum": 0.67, "type": "quantitative", "scale": {"domain": [0, 10]}, "axis": null},
            "y": {"aggregate": "mean", "field": "ord", "type": "quantitative", "scale": {"domain": [-1.43, 16.17], "reverse": true, "nice": false, "zero": false}, "axis": null},
            "text": {"field": "grp"}
          }
        },
        {
          "mark": {"type": "point", "filled": true, "opacity": 1, "strokeWidth": 0},
          "encoding": {
            "x": {"datum": 2.67, "type": "quantitative", "scale": {"domain": [0, 10]}, "axis": null},
            "y": {"field": "ord", "type": "quantitative", "scale": {"domain": [-1.43, 16.17], "reverse": true, "nice": false, "zero": false}, "axis": null},
            "shape": {"field": "name", "type": "nominal", "legend": null, "scale": {"domain": ["Lesser Antilles arc","Cascades arc","Tonga arc","Aegean arc","Andean arc","Aleutian arc","Rotoiti volcano","Arenal volcano","Campi Flegrei","Zuni-Bandera field","Kilauea","Kenyan Rift","Laacher See","Mt. Erebus","Iceland"], "range": ["triangle-up","triangle-right","triangle-down","triangle-left","circle","diamond","M0,-1L0.32,-0.32L1,0L0.32,0.32L0,1L-0.32,0.32L-1,0L-0.32,-0.32Z","M0,-1L0.2245,-0.309L0.951,-0.309L0.3633,0.118L0.588,0.809L0,0.382L-0.588,0.809L-0.3633,0.118L-0.951,-0.309L-0.2245,-0.309Z","M-1,-1L0,-0.5L1,-1L0.5,0L1,1L0,0.5L-1,1L-0.5,0Z","M0,-1L0.2245,-0.309L0.951,-0.309L0.3633,0.118L0.588,0.809L0,0.382L-0.588,0.809L-0.3633,0.118L-0.951,-0.309L-0.2245,-0.309Z","M0,-1L0.32,-0.32L1,0L0.32,0.32L0,1L-0.32,0.32L-1,0L-0.32,-0.32Z","M0,-1L0.38,-0.38L1,0L0.38,0.38L0,1L-0.38,0.38L-1,0L-0.38,-0.38Z","square","circle","M0,-1L0.951,-0.309L0.588,0.809L-0.588,0.809L-0.951,-0.309Z"]}},
            "color": {"field": "name", "type": "nominal", "legend": null, "scale": {"domain": ["Lesser Antilles arc","Cascades arc","Tonga arc","Aegean arc","Andean arc","Aleutian arc","Rotoiti volcano","Arenal volcano","Campi Flegrei","Zuni-Bandera field","Kilauea","Kenyan Rift","Laacher See","Mt. Erebus","Iceland"], "range": ["#8e8e8e","#8e8e8e","#8e8e8e","#8e8e8e","#8e8e8e","#8e8e8e","#8e8e8e","#8e8e8e","#8e8e8e","#cccccc","#cccccc","#cccccc","#cccccc","#cccccc","#cccccc"]}},
            "size": {"field": "name", "type": "nominal", "legend": null, "scale": {"type": "ordinal", "domain": ["Lesser Antilles arc","Cascades arc","Tonga arc","Aegean arc","Andean arc","Aleutian arc","Rotoiti volcano","Arenal volcano","Campi Flegrei","Zuni-Bandera field","Kilauea","Kenyan Rift","Laacher See","Mt. Erebus","Iceland"], "range": [55,55,55,40,36,55,110,110,55,110,100,50,36,36,80]}}
          }
        },
        {
          "mark": {"type": "text", "align": "left", "baseline": "middle", "fontSize": 10.7, "color": "#222"},
          "encoding": {
            "x": {"datum": 3.47, "type": "quantitative", "scale": {"domain": [0, 10]}, "axis": null},
            "y": {"field": "ord", "type": "quantitative", "scale": {"domain": [-1.43, 16.17], "reverse": true, "nice": false, "zero": false}, "axis": null},
            "text": {"field": "name"}
          }
        }
      ]
    },
    {
      "width": 401, "height": 155,
      "resolve": {"axis": {"x": "independent", "y": "independent"}},
      "layer": [
        {
          "data": {"name": "rings"},
          "mark": {"type": "line", "interpolate": "cardinal-closed", "clip": true, "strokeWidth": 1},
          "encoding": {
            "x": {"field": "t", "type": "quantitative", "scale": {"type": "log", "domain": [0.1, 1000], "nice": false}, "axis": {"orient": "bottom", "values": [0.1,0.2,0.3,0.4,0.5,0.6,0.7,0.8,0.9,1,2,3,4,5,6,7,8,9,10,20,30,40,50,60,70,80,90,100,200,300,400,500,600,700,800,900,1000], "format": "~g", "labelExpr": "indexof([0.1,1,10,100,1000], datum.value) >= 0 ? datum.label : ''", "labelOverlap": false, "labelFlush": false, "labelPadding": 9, "titlePadding": 0, "title": "Pre-eruption residence time (ka)"}},
            "y": {"field": "m", "type": "quantitative", "scale": {"domain": [-0.7, 6], "nice": false, "zero": false}, "axis": {"orient": "left", "values": [0,2,4,6], "title": "Host magma MgO (wt %)", "labelPadding": 8, "minExtent": 18, "maxExtent": 18, "titlePadding": 3}},
            "detail": {"field": "c"},
            "order": {"field": "i", "type": "quantitative"},
            "color": {"field": "lv", "type": "quantitative", "scale": {"domain": [0, 10], "range": ["#8a8a8a", "#e4e4e4"]}, "legend": null}
          }
        },
        {
          "data": {"name": "outer"},
          "mark": {"type": "line", "interpolate": "catmull-rom", "clip": true, "strokeWidth": 1},
          "encoding": {
            "x": {"field": "t", "type": "quantitative", "scale": {"type": "log", "domain": [0.1, 1000], "nice": false}, "axis": {"orient": "top", "values": [0.1,0.2,0.3,0.4,0.5,0.6,0.7,0.8,0.9,1,2,3,4,5,6,7,8,9,10,20,30,40,50,60,70,80,90,100,200,300,400,500,600,700,800,900,1000], "labels": false, "title": null}},
            "y": {"field": "m", "type": "quantitative", "scale": {"domain": [-0.7, 6], "nice": false, "zero": false}, "axis": {"orient": "right", "values": [0,2,4,6], "labels": false, "title": null}},
            "detail": {"field": "c"},
            "order": {"field": "i", "type": "quantitative"},
            "color": {"field": "lv", "type": "quantitative", "scale": {"domain": [0, 10], "range": ["#8a8a8a", "#e4e4e4"]}, "legend": null}
          }
        },
        {
          "data": {"name": "zircon"},
          "mark": {"type": "point", "shape": "circle", "filled": true, "opacity": 1, "strokeWidth": 0, "size": 64},
          "encoding": {
            "x": {"field": "t", "type": "quantitative", "scale": {"type": "log", "domain": [0.1, 1000], "nice": false}, "axis": null},
            "y": {"field": "m", "type": "quantitative", "scale": {"domain": [-0.7, 6], "nice": false, "zero": false}, "axis": null},
            "color": {"field": "g", "type": "nominal", "legend": null, "scale": {"domain": ["Subduction zone volcanoes", "Intraplate volcanoes"], "range": ["#858585", "#c8c8c8"]}}
          }
        },
        {
          "data": {"values": [{}]},
          "mark": {"type": "text", "align": "left", "baseline": "middle", "fontSize": 10.4, "fontWeight": "bold", "color": "#111"},
          "encoding": {
            "x": {"datum": 0.1174, "type": "quantitative", "scale": {"type": "log", "domain": [0.1, 1000], "nice": false}, "axis": null},
            "y": {"datum": 5.49, "type": "quantitative", "scale": {"domain": [-0.7, 6], "nice": false, "zero": false}, "axis": null},
            "text": {"value": "Zircon"}
          }
        },
        {
          "data": {"values": [{}]},
          "mark": {"type": "text", "align": "left", "baseline": "middle", "fontSize": 10.7, "color": "#111"},
          "encoding": {
            "x": {"datum": 0.2506, "type": "quantitative", "scale": {"type": "log", "domain": [0.1, 1000], "nice": false}, "axis": null},
            "y": {"datum": 5.49, "type": "quantitative", "scale": {"domain": [-0.7, 6], "nice": false, "zero": false}, "axis": null},
            "text": {"value": "(median residence time)"}
          }
        },
        {
          "data": {"values": [{}]},
          "mark": {"type": "point", "shape": "circle", "filled": true, "fill": "#858585", "strokeWidth": 0, "size": 64, "opacity": 1},
          "encoding": {
            "x": {"datum": 0.1609, "type": "quantitative", "scale": {"type": "log", "domain": [0.1, 1000], "nice": false}, "axis": null},
            "y": {"datum": 4.78, "type": "quantitative", "scale": {"domain": [-0.7, 6], "nice": false, "zero": false}, "axis": null}
          }
        },
        {
          "data": {"values": [{}]},
          "mark": {"type": "point", "shape": "circle", "filled": true, "fill": "#c8c8c8", "strokeWidth": 0, "size": 64, "opacity": 1},
          "encoding": {
            "x": {"datum": 0.1609, "type": "quantitative", "scale": {"type": "log", "domain": [0.1, 1000], "nice": false}, "axis": null},
            "y": {"datum": 4.13, "type": "quantitative", "scale": {"domain": [-0.7, 6], "nice": false, "zero": false}, "axis": null}
          }
        },
        {
          "data": {"values": [{}]},
          "mark": {"type": "text", "align": "left", "baseline": "middle", "fontSize": 10.7, "color": "#111"},
          "encoding": {
            "x": {"datum": 0.2149, "type": "quantitative", "scale": {"type": "log", "domain": [0.1, 1000], "nice": false}, "axis": null},
            "y": {"datum": 4.78, "type": "quantitative", "scale": {"domain": [-0.7, 6], "nice": false, "zero": false}, "axis": null},
            "text": {"value": "Subduction zone volcanoes"}
          }
        },
        {
          "data": {"values": [{}]},
          "mark": {"type": "text", "align": "left", "baseline": "middle", "fontSize": 10.7, "color": "#111"},
          "encoding": {
            "x": {"datum": 0.2149, "type": "quantitative", "scale": {"type": "log", "domain": [0.1, 1000], "nice": false}, "axis": null},
            "y": {"datum": 4.13, "type": "quantitative", "scale": {"domain": [-0.7, 6], "nice": false, "zero": false}, "axis": null},
            "text": {"value": "Intraplate volcanoes"}
          }
        },
        {
          "data": {"values": [{}]},
          "mark": {"type": "text", "align": "center", "baseline": "middle", "fontSize": 13, "fontWeight": "bold", "color": "#111"},
          "encoding": {
            "x": {"datum": 0.055, "type": "quantitative", "scale": {"type": "log", "domain": [0.1, 1000], "nice": false}, "axis": null},
            "y": {"datum": 6.35, "type": "quantitative", "scale": {"domain": [-0.7, 6], "nice": false, "zero": false}, "axis": null},
            "text": {"value": "B"}
          }
        }
      ]
    }
  ]
}
